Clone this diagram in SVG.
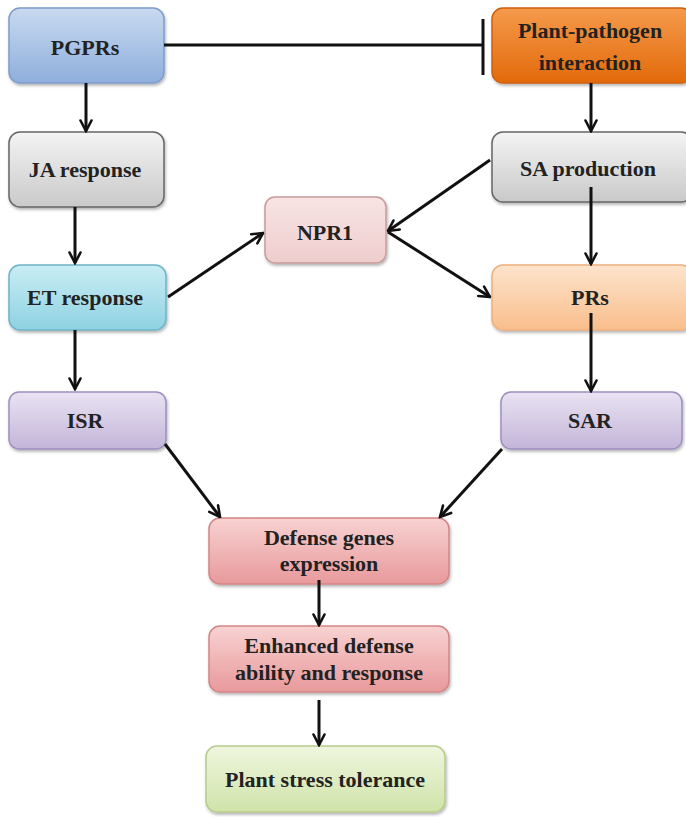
<svg xmlns="http://www.w3.org/2000/svg" width="686" height="817" viewBox="0 0 686 817">
<style>
.t{font-family:"Liberation Serif","Times New Roman",serif;font-weight:bold;font-size:22px;fill:#222;text-anchor:middle}
.box{stroke-width:1.5}
.c{stroke:#111;stroke-width:3;fill:none}
.a{marker-end:url(#ah)}
</style>
<defs>
<filter id="sh" x="-10%" y="-10%" width="125%" height="130%">
<feDropShadow dx="1" dy="2" stdDeviation="1.5" flood-color="#000" flood-opacity="0.3"/>
</filter>
<marker id="ah" viewBox="0 0 14 14" refX="12.5" refY="7" markerWidth="14" markerHeight="14" markerUnits="userSpaceOnUse" orient="auto">
<path d="M2,1.5 L12.5,7 L2,12.5" fill="none" stroke="#111" stroke-width="2.6" stroke-linecap="round" stroke-linejoin="miter"/>
</marker>
<linearGradient id="gBlue" x1="0" y1="0" x2="0" y2="1"><stop offset="0" stop-color="#c9daf0"/><stop offset="1" stop-color="#8eaedc"/></linearGradient>
<linearGradient id="gOrange" x1="0" y1="0" x2="0" y2="1"><stop offset="0" stop-color="#f59a4c"/><stop offset="1" stop-color="#e26a0b"/></linearGradient>
<linearGradient id="gGray" x1="0" y1="0" x2="0" y2="1"><stop offset="0" stop-color="#f4f4f4"/><stop offset="1" stop-color="#c9c9c9"/></linearGradient>
<linearGradient id="gCyan" x1="0" y1="0" x2="0" y2="1"><stop offset="0" stop-color="#c9edf4"/><stop offset="1" stop-color="#8ed2e2"/></linearGradient>
<linearGradient id="gPink" x1="0" y1="0" x2="0" y2="1"><stop offset="0" stop-color="#f8e4e4"/><stop offset="1" stop-color="#efcdcd"/></linearGradient>
<linearGradient id="gPeach" x1="0" y1="0" x2="0" y2="1"><stop offset="0" stop-color="#fde4cc"/><stop offset="1" stop-color="#f9be8c"/></linearGradient>
<linearGradient id="gPurple" x1="0" y1="0" x2="0" y2="1"><stop offset="0" stop-color="#e9e3f2"/><stop offset="1" stop-color="#c3b5d9"/></linearGradient>
<linearGradient id="gRed" x1="0" y1="0" x2="0" y2="1"><stop offset="0" stop-color="#f8d2d2"/><stop offset="1" stop-color="#e8999b"/></linearGradient>
<linearGradient id="gGreen" x1="0" y1="0" x2="0" y2="1"><stop offset="0" stop-color="#eff6de"/><stop offset="1" stop-color="#cfe3a9"/></linearGradient>
</defs>
<rect width="686" height="817" fill="#ffffff"/>

<g id="nodes">
<g id="pgprs"><rect class="box" x="9" y="8" width="155" height="75" rx="11" fill="url(#gBlue)" stroke="#7d9ccb" filter="url(#sh)"/><text class="t" x="85" y="55">PGPRs</text></g>
<g id="plant-pathogen"><rect class="box" x="492" y="8" width="200" height="75" rx="11" fill="url(#gOrange)" stroke="#d0600a" filter="url(#sh)"/><text class="t" x="590" y="38">Plant-pathogen</text><text class="t" x="590" y="70">interaction</text></g>
<g id="ja"><rect class="box" x="9" y="132" width="155" height="75" rx="11" fill="url(#gGray)" stroke="#666" filter="url(#sh)"/><text class="t" x="85" y="177">JA response</text></g>
<g id="sa"><rect class="box" x="492" y="132" width="200" height="70" rx="11" fill="url(#gGray)" stroke="#666" filter="url(#sh)"/><text class="t" x="588" y="176">SA production</text></g>
<g id="npr1"><rect class="box" x="265" y="197" width="121" height="66" rx="10" fill="url(#gPink)" stroke="#c79a9b" filter="url(#sh)"/><text class="t" x="325" y="240">NPR1</text></g>
<g id="et"><rect class="box" x="9" y="265" width="157" height="65" rx="11" fill="url(#gCyan)" stroke="#6cb4c6" filter="url(#sh)"/><text class="t" x="85" y="305">ET response</text></g>
<g id="prs"><rect class="box" x="492" y="265" width="200" height="65" rx="11" fill="url(#gPeach)" stroke="#eeb07c" filter="url(#sh)"/><text class="t" x="590" y="305">PRs</text></g>
<g id="isr"><rect class="box" x="9" y="392" width="157" height="57" rx="10" fill="url(#gPurple)" stroke="#9f8fbf" filter="url(#sh)"/><text class="t" x="85" y="428">ISR</text></g>
<g id="sar"><rect class="box" x="501" y="392" width="181" height="57" rx="10" fill="url(#gPurple)" stroke="#9f8fbf" filter="url(#sh)"/><text class="t" x="590" y="428">SAR</text></g>
<g id="defense"><rect class="box" x="209" y="518" width="240" height="66" rx="11" fill="url(#gRed)" stroke="#d38586" filter="url(#sh)"/><text class="t" x="329" y="545">Defense genes</text><text class="t" x="329" y="571">expression</text></g>
<g id="enhanced"><rect class="box" x="209" y="626" width="240" height="66" rx="11" fill="url(#gRed)" stroke="#d38586" filter="url(#sh)"/><text class="t" x="329" y="653">Enhanced defense</text><text class="t" x="329" y="680">ability and response</text></g>
<g id="tolerance"><rect class="box" x="206" y="746" width="239" height="66" rx="11" fill="url(#gGreen)" stroke="#b6cc8c" filter="url(#sh)"/><text class="t" x="325" y="787">Plant stress tolerance</text></g>
</g>

<g id="connectors">
<line class="c" x1="164" y1="45" x2="483" y2="45"/>
<line class="c" x1="483" y1="19" x2="483" y2="75"/>
<line class="c a" x1="86" y1="83" x2="86" y2="131"/>
<line class="c a" x1="591" y1="83" x2="591" y2="131"/>
<line class="c a" x1="75" y1="207" x2="75" y2="263"/>
<line class="c a" x1="490" y1="160" x2="388" y2="231"/>
<line class="c a" x1="591" y1="187" x2="591" y2="264"/>
<line class="c a" x1="168" y1="297" x2="263" y2="233"/>
<line class="c a" x1="388" y1="232" x2="490" y2="297"/>
<line class="c a" x1="75" y1="330" x2="75" y2="389"/>
<line class="c a" x1="591" y1="313" x2="591" y2="391"/>
<line class="c a" x1="165" y1="444" x2="220" y2="517"/>
<line class="c a" x1="502" y1="449" x2="440" y2="517"/>
<line class="c a" x1="319" y1="580" x2="319" y2="625"/>
<line class="c a" x1="319" y1="700" x2="319" y2="745"/>
</g>
</svg>
